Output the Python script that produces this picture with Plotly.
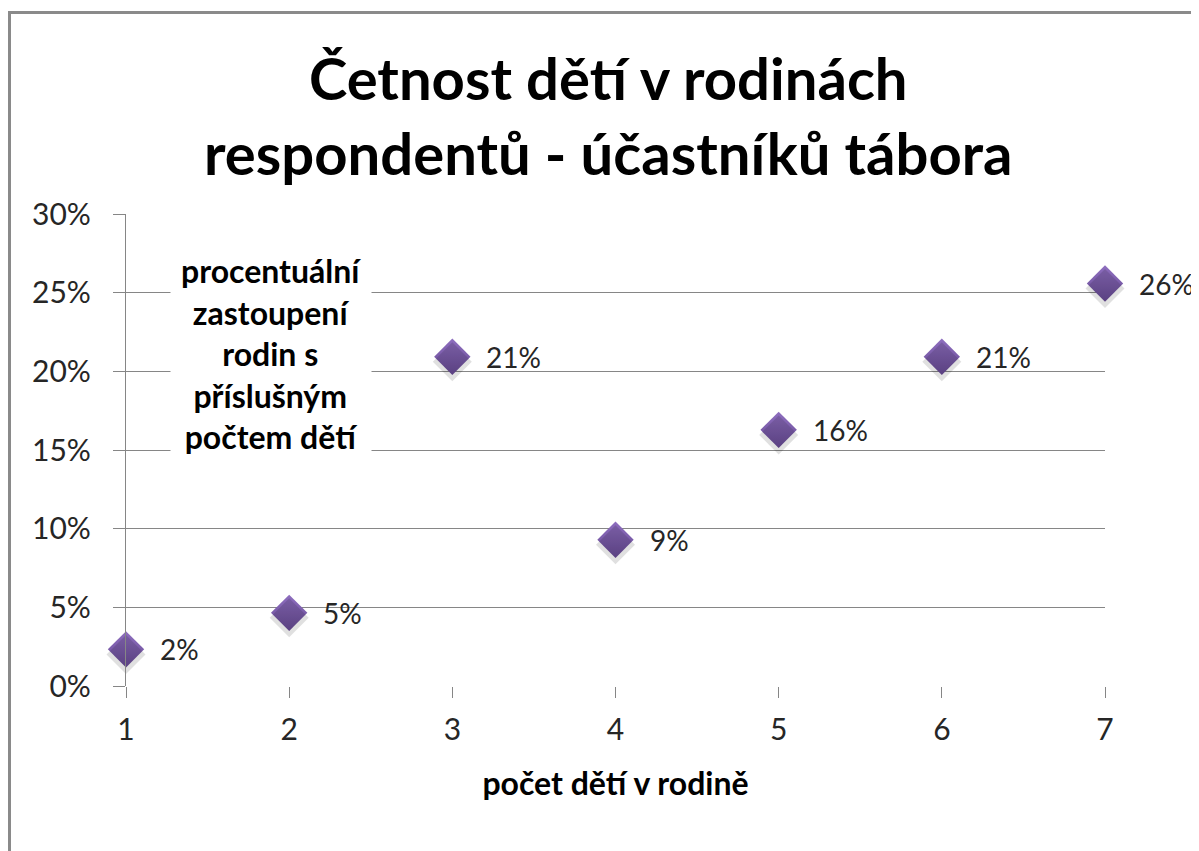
import plotly.graph_objects as go

# Data
pocet_deti = [1, 2, 3, 4, 5, 6, 7]
podil = [0.0233, 0.0465, 0.2093, 0.0930, 0.1628, 0.2093, 0.2558]
popisky = ["2%", "5%", "21%", "9%", "16%", "21%", "26%"]
popis_y = ["procentuální", "zastoupení", "rodin s", "příslušným", "počtem dětí"]

FONT = "Lato"
GRAY = "#868686"
TEXT = "#262626"

fig = go.Figure()

# stín pod značkami (posunutá pomocná osa)
fig.add_trace(go.Scatter(
    x=pocet_deti, y=podil, mode="markers", yaxis="y2",
    marker=dict(symbol="diamond", size=30, color="rgba(0,0,0,0.12)", line=dict(width=0)),
    hoverinfo="skip", showlegend=False, cliponaxis=False,
))

# body
fig.add_trace(go.Scatter(
    x=pocet_deti, y=podil, mode="markers",
    marker=dict(symbol="diamond", size=28, color="#8e6ebf",
                gradient=dict(type="vertical", color="#674a94"),
                line=dict(width=0)),
    showlegend=False, cliponaxis=False,
))

# popisky dat
for x, y, t in zip(pocet_deti, podil, popisky):
    fig.add_annotation(x=x, y=y, text=t, showarrow=False, xanchor="left",
                       yanchor="middle", xshift=32,
                       font=dict(family=FONT, size=28, color=TEXT))

# popis osy y jako textové pole v grafu
fig.add_annotation(
    x=0.148, y=0.7045, xref="paper", yref="paper",
    xanchor="center", yanchor="middle",
    text="<b>" + "<br>".join(popis_y) + "</b>",
    showarrow=False, bgcolor="white", borderpad=10,
    font=dict(family=FONT, size=32, color="black"),
)

# rámeček grafu
fig.add_shape(type="rect", xref="paper", yref="paper",
              x0=-0.119, x1=1.2, y0=-0.5, y1=1.427,
              line=dict(color="#8a8a8a", width=3), layer="below")

fig.update_layout(
    width=1191, height=843,
    margin=dict(l=118, r=94, t=206, b=165),
    paper_bgcolor="white", plot_bgcolor="white",
    title=dict(
        text="<b>Četnost dětí v rodinách<br>respondentů - účastníků tábora</b>",
        x=0.504, xref="container", xanchor="center",
        y=1 - 92 / 843, yref="container", yanchor="top",
        font=dict(family=FONT, size=58, color="black"),
    ),
    xaxis=dict(
        range=[1, 7], dtick=1, showgrid=False, zeroline=False,
        showline=False, ticks="outside", ticklen=11, tickcolor=GRAY,
        ticklabelstandoff=6,
        tickfont=dict(family=FONT, size=30, color=TEXT),
        title=dict(text="<b>počet dětí v rodině</b>", standoff=27,
                   font=dict(family=FONT, size=32, color="black")),
    ),
    yaxis=dict(
        range=[0, 0.30], dtick=0.05, tickformat=".0%",
        showgrid=True, gridcolor=GRAY, gridwidth=1.3, zeroline=False,
        showline=True, linecolor=GRAY, linewidth=1.3,
        ticks="outside", ticklen=12, tickcolor=GRAY,
        ticklabelstandoff=16,
        tickfont=dict(family=FONT, size=30, color=TEXT),
    ),
    yaxis2=dict(range=[0.0032, 0.3032], overlaying="y", visible=False),
)

fig.write_html("out.html")
